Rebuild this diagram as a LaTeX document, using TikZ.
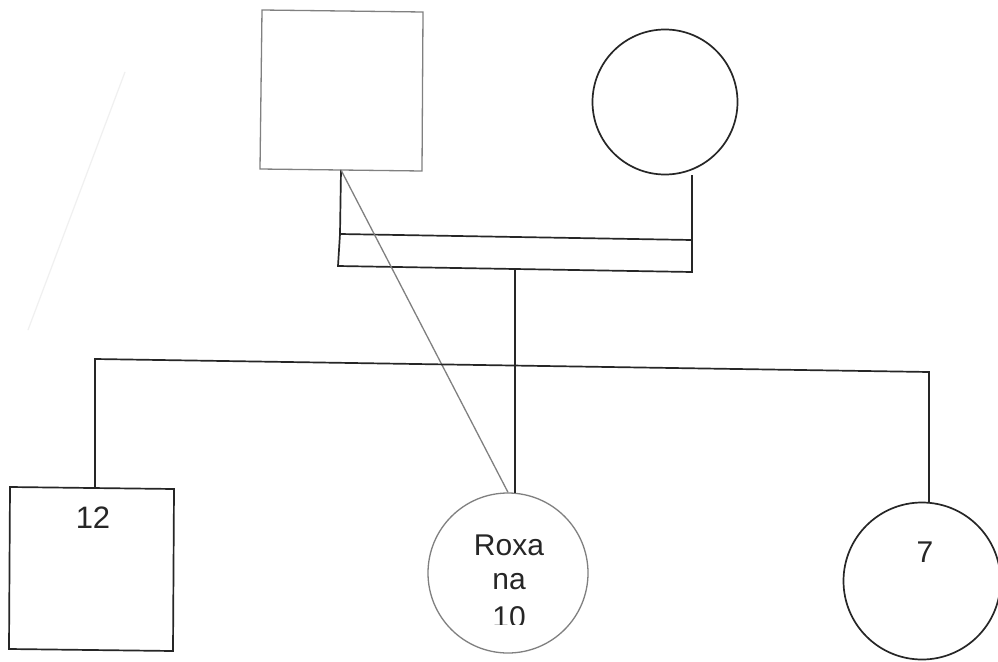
\documentclass[tikz,border=0pt]{standalone}
\usepackage{fontspec}
\setmainfont{Liberation Sans}
\begin{document}
\begin{tikzpicture}[x=1pt,y=-1pt,
  blk/.style={draw=black!85,line width=1.7pt},
  gry/.style={draw=black!50,line width=1.3pt},
  lbl/.style={inner sep=0pt,text=black!85}]
\useasboundingbox[fill=white] (0,0) rectangle (998,661);
% faint stray line
\draw[draw=black!6,line width=1.2pt] (125,72) -- (28,330);
% parents
\draw[gry] (262,10) -- (423,12) -- (422,171) -- (260,169) -- cycle;
\coordinate (fbot) at (341,170);
\node[blk,circle,minimum size=145pt,inner sep=0pt] (mother) at (665,102) {};
\coordinate (mbot) at (692,175);
% marriage box
\coordinate (ul) at (340,234);
\coordinate (ur) at (692,240);
\coordinate (ll) at (338,266);
\coordinate (lr) at (692,272);
\draw[blk] (fbot) -- (ul) -- (ll) -- (lr) -- (ur) -- (mbot);
\draw[blk] (ul) -- (ur);
% children
\node[gry,circle,minimum size=160pt,inner sep=0pt] (roxana) at (508,573) {};
\draw[blk] (515,269) -- (515,493);
\draw[gry] (fbot) -- (roxana.north);
% sibship line
\coordinate (sl) at (95,359);
\coordinate (sr) at (929,372);
\draw[blk] (95,488) -- (sl) -- (sr) -- (929,502);
\draw[blk] (10,487) -- (174,489) -- (173,651) -- (9,649) -- cycle;
\node[blk,circle,minimum size=157pt,inner sep=0pt] (seven) at (922,581) {};
% labels
\node[lbl,font=\fontsize{31}{31}\selectfont] (t12) at (93,518) {12};
\node[lbl,font=\fontsize{30}{30}\selectfont] (t7) at (925,552) {7};
\node[lbl,font=\fontsize{30}{30}\selectfont] (r1) at (509,545) {Roxa};
\node[lbl,font=\fontsize{30}{30}\selectfont] (r2) at (509,582) {na};
\begin{scope}
\clip (440,560) rectangle (580,624);
\node[lbl,font=\fontsize{30}{30}\selectfont,anchor=north] (r3) at (509,606) {10};
\end{scope}
\end{tikzpicture}
\end{document}
